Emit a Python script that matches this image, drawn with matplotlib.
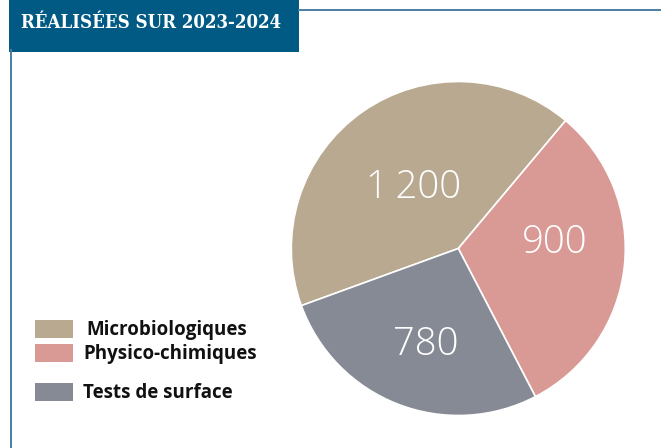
import matplotlib
matplotlib.use("Agg")
import matplotlib.pyplot as plt
from matplotlib.patches import Rectangle
from matplotlib.lines import Line2D

# data
categories = ["Microbiologiques", "Physico-chimiques", "Tests de surface"]
values = [1200, 900, 780]
value_labels = ["1\u2009200", "900", "780"]
colors = ["#b8a990", "#d99a95", "#858a94"]
title = "RÉALISÉES SUR 2023-2024"

W, H = 661, 448
fig = plt.figure(figsize=(W / 100, H / 100), dpi=100)

def fx(px):
    return px / W

def fy(py):
    return 1 - py / H

# frame lines
fig.add_artist(Line2D([fx(299), 1], [fy(10), fy(10)], color="#4a7fa3", lw=1.4))
fig.add_artist(Line2D([fx(11), fx(11)], [0, fy(50)], color="#4a7fa3", lw=1.4))

# title box
fig.add_artist(Rectangle((fx(9), fy(52)), fx(290), 0.2, color="#005a84", lw=0))
fig.text(fx(21), fy(28.5), title, color="white", fontsize=13.3, fontweight="bold",
         family="DejaVu Serif", fontstretch="condensed", va="baseline", ha="left")

# pie
cx, cy, r = 458.3, 248.5, 167
ax = fig.add_axes([fx(cx - r), fy(cy + r), 2 * r / W, 2 * r / H])
wedges, texts = ax.pie(values, colors=colors, startangle=200, counterclock=False,
                       labels=value_labels, labeldistance=0.55,
                       wedgeprops=dict(edgecolor="white", linewidth=1.2))
for t in texts:
    t.set_color("white")
    t.set_fontsize(27.5)
    t.set_family("Open Sans")
    t.set_fontweight("light")
    t.set_ha("center")
    t.set_va("center")
# nudge labels toward where they sit in the reference
texts[0].set_position((-0.27, 0.365))
texts[1].set_position((0.58, 0.035))
texts[2].set_position((-0.195, -0.575))
ax.set_xlim(-1, 1)
ax.set_ylim(-1, 1)
ax.set_aspect("equal")
ax.axis("off")

# legend
box_y = [320, 344, 383]
text_x = [86, 83, 83]
for c, lab, y, tx in zip(colors, categories, box_y, text_x):
    fig.add_artist(Rectangle((fx(35), fy(y + 18)), fx(38), 18 / H, color=c, lw=0))
    fig.text(fx(tx), fy(y + 10), lab, fontsize=13.5, fontweight="bold",
             family="Open Sans", va="center", ha="left", color="#111111")

fig.savefig("out.png", dpi=100)
